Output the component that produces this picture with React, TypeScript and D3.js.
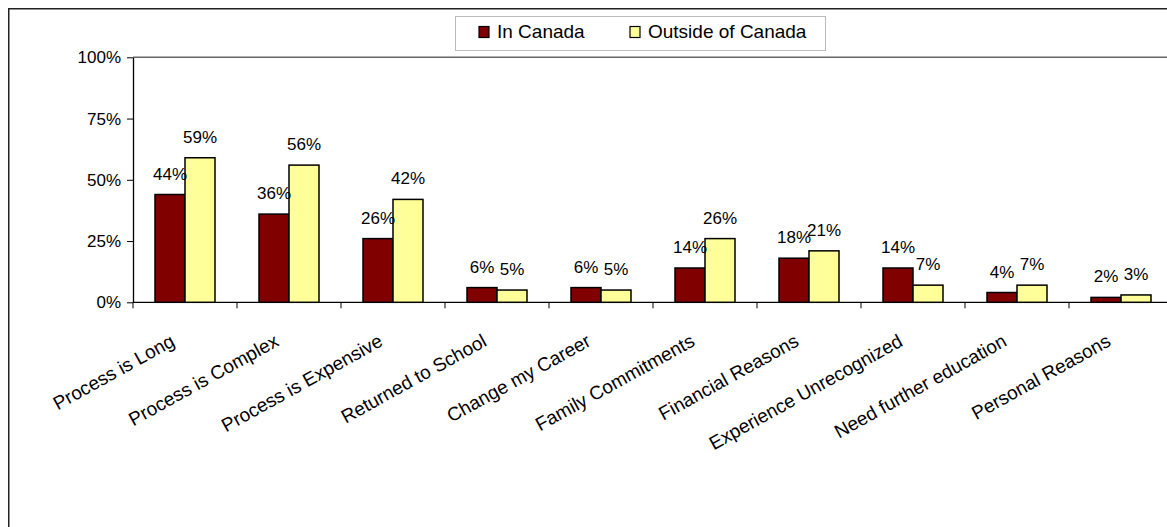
import React, { useEffect, useRef } from 'react';
import * as d3 from 'd3';

const categories = [
  "Process is Long",
  "Process is Complex",
  "Process is Expensive",
  "Returned to School",
  "Change my Career",
  "Family Commitments",
  "Financial Reasons",
  "Experience Unrecognized",
  "Need further education",
  "Personal Reasons",
];
const inCanada = [44, 36, 26, 6, 6, 14, 18, 14, 4, 2];
const outsideCanada = [59, 56, 42, 5, 5, 26, 21, 7, 7, 3];
const seriesNames = ["In Canada", "Outside of Canada"];
const seriesColors = ["#800000", "#FFFF99"];
const yTicks = [0, 25, 50, 75, 100];

const FONT = "'Liberation Sans', Arial, sans-serif";

export default function App() {
  const svgRef = useRef<SVGSVGElement>(null);

  useEffect(() => {
    if (!svgRef.current) return;
    const svg = d3.select(svgRef.current);
    svg.selectAll("*").remove();

    const W = 1167;
    const plot = { left: 133, right: 1173, top: 57.3, bottom: 302.3 };

    const x0 = d3.scaleBand<string>()
      .domain(categories)
      .range([plot.left, plot.right])
      .paddingInner(0.4231)
      .paddingOuter(0.4231 / 2);
    const x1 = d3.scaleBand<string>().domain(seriesNames).range([0, x0.bandwidth()]);
    const y = d3.scaleLinear().domain([0, 100]).range([plot.bottom, plot.top]);

    // outer chart frame (only top/left edges are inside the window)
    svg.append("rect")
      .attr("x", 8.75).attr("y", 8.75)
      .attr("width", 2000).attr("height", 2000)
      .attr("fill", "none").attr("stroke", "#222").attr("stroke-width", 1.5);

    // plot area top border
    svg.append("line")
      .attr("x1", plot.left).attr("x2", W)
      .attr("y1", y(100)).attr("y2", y(100))
      .attr("stroke", "#666").attr("stroke-width", 1.5);

    // y axis
    const yAxis = svg.append("g")
      .attr("transform", `translate(${plot.left},0)`)
      .call(d3.axisLeft(y).tickValues(yTicks).tickSize(6).tickSizeOuter(0).tickPadding(6)
        .tickFormat(d => `${d}%`));
    yAxis.select(".domain").attr("stroke", "#000").attr("stroke-width", 1.3);
    yAxis.selectAll(".tick line").attr("stroke", "#000");
    yAxis.selectAll("text")
      .attr("font-family", FONT).attr("font-size", 17).attr("fill", "#000");

    // x axis line + ticks at category boundaries
    svg.append("line")
      .attr("x1", plot.left).attr("x2", W)
      .attr("y1", y(0)).attr("y2", y(0))
      .attr("stroke", "#000").attr("stroke-width", 1.3);
    svg.append("g")
      .selectAll("line")
      .data(d3.range(categories.length + 1))
      .join("line")
      .attr("x1", i => plot.left + i * x0.step())
      .attr("x2", i => plot.left + i * x0.step())
      .attr("y1", y(0)).attr("y2", y(0) + 6)
      .attr("stroke", "#000");

    const rows = categories.map((c, i) => ({ cat: c, vals: [inCanada[i], outsideCanada[i]] }));

    // bars
    const groups = svg.append("g")
      .selectAll("g")
      .data(rows)
      .join("g")
      .attr("transform", d => `translate(${x0(d.cat)},0)`);

    groups.selectAll("rect")
      .data(d => d.vals.map((v, k) => ({ v, k })))
      .join("rect")
      .attr("x", d => x1(seriesNames[d.k])!)
      .attr("y", d => y(d.v))
      .attr("width", x1.bandwidth())
      .attr("height", d => y(0) - y(d.v))
      .attr("fill", d => seriesColors[d.k])
      .attr("stroke", "#000")
      .attr("stroke-width", 1.5);

    // data labels
    groups.selectAll("text")
      .data(d => d.vals.map((v, k) => ({ v, k })))
      .join("text")
      .attr("x", d => x1(seriesNames[d.k])! + x1.bandwidth() / 2)
      .attr("y", d => y(d.v) - 15)
      .attr("text-anchor", "middle")
      .attr("font-family", FONT).attr("font-size", 17).attr("fill", "#000")
      .text(d => `${d.v}%`);

    // category labels
    svg.append("g")
      .selectAll("text")
      .data(categories)
      .join("text")
      .attr("transform", d => `translate(${x0(d)! + x0.bandwidth() / 2 - 9},345) rotate(-29)`)
      .attr("text-anchor", "end")
      .attr("font-family", FONT).attr("font-size", 19).attr("fill", "#000")
      .text(d => d);

    // legend
    const legend = svg.append("g");
    legend.append("rect")
      .attr("x", 455.5).attr("y", 16.5).attr("width", 370).attr("height", 34)
      .attr("fill", "#fff").attr("stroke", "#bbb");
    const legendX = [479, 630];
    seriesNames.forEach((name, k) => {
      legend.append("rect")
        .attr("x", legendX[k]).attr("y", 26.5).attr("width", 10).attr("height", 11)
        .attr("fill", seriesColors[k]).attr("stroke", "#000").attr("stroke-width", 1.2);
      legend.append("text")
        .attr("x", legendX[k] + 18).attr("y", 37.5)
        .attr("font-family", FONT).attr("font-size", 19).attr("fill", "#000")
        .text(name);
    });
  }, []);

  return (
    <svg
      ref={svgRef}
      width={1167}
      height={527}
      style={{ position: 'absolute', left: 0, top: 0, background: '#fff' }}
    />
  );
}
